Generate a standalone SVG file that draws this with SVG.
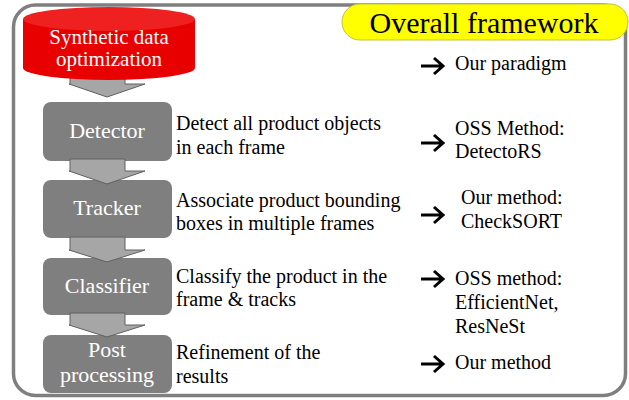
<svg xmlns="http://www.w3.org/2000/svg" width="629" height="400" viewBox="0 0 629 400">
<style>
.box{fill:#7f7f7f}
.blk{fill:#a6a6a6;stroke:#606060;stroke-width:1}
.ar{fill:none;stroke:#000000;stroke-width:3;stroke-linecap:butt;stroke-linejoin:miter}
</style>
<rect width="629" height="400" fill="#ffffff"/>
<g id="frame">
<rect x="13.5" y="5" width="612" height="390.5" rx="22" fill="#ffffff" stroke="#7f7f7f" stroke-width="3.5"/>
</g>
<g id="title">
<rect x="342" y="4" width="286" height="36" rx="18" fill="#ffff00" stroke="#c4c040" stroke-width="1"/>
<text x="484" y="33" font-family="Liberation Serif, serif" font-size="30" text-anchor="middle" fill="#000000">Overall framework</text>
</g>
<g id="connectors">
<path class="blk" d="M70,72 H125 V84 H145 L107,97 L69,84 H70 Z"/>
</g>
<g id="synthetic">
<path d="M23,19 V68 A86,12 0 0 0 195,68 V19 Z" fill="#e80000"/>
<ellipse cx="109" cy="19" rx="86" ry="12" fill="#ee2020"/>
<text x="109" y="44" font-family="Liberation Serif, serif" font-size="21" fill="#ffffff" text-anchor="middle">Synthetic data</text>
<text x="109" y="66" font-family="Liberation Serif, serif" font-size="21" fill="#ffffff" text-anchor="middle">optimization</text>
</g>
<g id="detector">
<rect class="box" x="43" y="102" width="129" height="59" rx="8"/>
<text x="107" y="138" font-family="Liberation Serif, serif" font-size="22" fill="#ffffff" text-anchor="middle">Detector</text>
</g>
<g id="tracker">
<rect class="box" x="43" y="180" width="129" height="58" rx="8"/>
<text x="107" y="215" font-family="Liberation Serif, serif" font-size="22" fill="#ffffff" text-anchor="middle">Tracker</text>
</g>
<g id="classifier">
<rect class="box" x="43" y="258" width="129" height="57" rx="8"/>
<text x="107" y="293" font-family="Liberation Serif, serif" font-size="22" fill="#ffffff" text-anchor="middle">Classifier</text>
</g>
<g id="post">
<rect class="box" x="43" y="335" width="129" height="58" rx="8"/>
<text x="107" y="357" font-family="Liberation Serif, serif" font-size="22" fill="#ffffff" text-anchor="middle">Post</text>
<text x="107" y="382" font-family="Liberation Serif, serif" font-size="22" fill="#ffffff" text-anchor="middle">processing</text>
</g>
<g id="connectors2">
<path class="blk" d="M70,159 H125 V171 H145 L107,184 L69,171 H70 Z"/>
<path class="blk" d="M70,237 H125 V250 H145 L107,262 L69,250 H70 Z"/>
<path class="blk" d="M70,313 H125 V325 H145 L107,337 L69,325 H70 Z"/>
<path class="ar" d="M421,66 H443 M434,58 L443,66 L434,74"/>
<path class="ar" d="M421,143 H443 M434,135 L443,143 L434,151"/>
<path class="ar" d="M421,215 H443 M434,207 L443,215 L434,223"/>
<path class="ar" d="M421,279 H443 M434,271 L443,279 L434,287"/>
<path class="ar" d="M421,364 H443 M434,356 L443,364 L434,372"/>
</g>
<g id="descriptions" font-family="Liberation Serif, serif" font-size="20" fill="#000000">
<text x="176" y="130">Detect all product objects</text>
<text x="176" y="154">in each frame</text>
<text x="176" y="207">Associate product bounding</text>
<text x="176" y="230">boxes in multiple frames</text>
<text x="176" y="283">Classify the product in the</text>
<text x="176" y="306">frame &amp; tracks</text>
<text x="176" y="359">Refinement of the</text>
<text x="176" y="383">results</text>
</g>
<g id="methods" font-family="Liberation Serif, serif" font-size="20" fill="#000000">
<text x="455" y="70">Our paradigm</text>
<text x="455" y="135">OSS Method:</text>
<text x="455" y="158">DetectoRS</text>
<text x="461" y="204">Our method:</text>
<text x="461" y="228">CheckSORT</text>
<text x="455" y="285">OSS method:</text>
<text x="455" y="309">EfficientNet,</text>
<text x="455" y="333">ResNeSt</text>
<text x="455" y="369">Our method</text>
</g>
</svg>
